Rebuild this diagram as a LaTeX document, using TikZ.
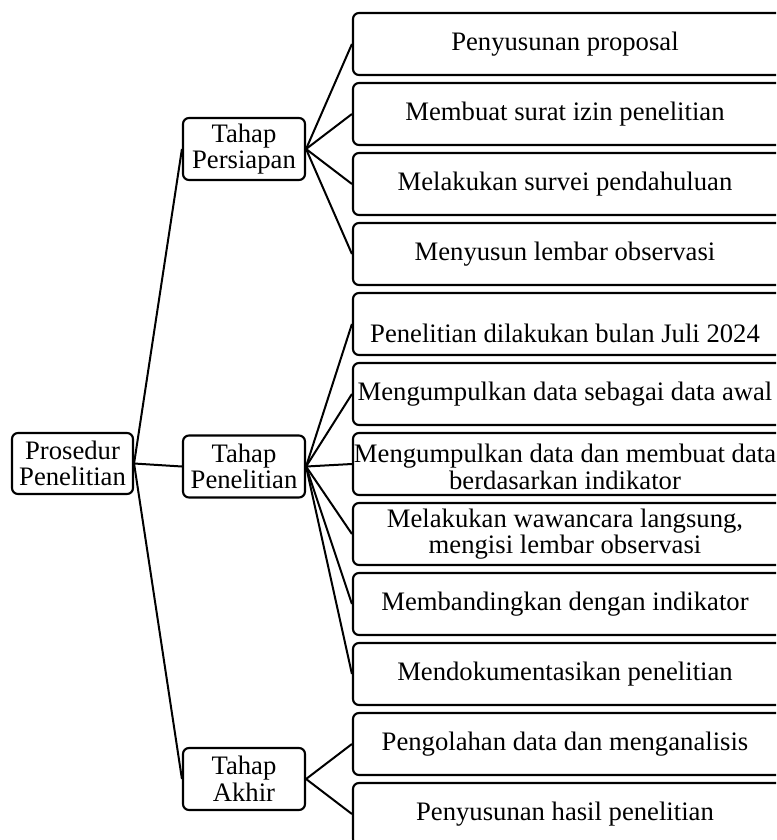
\documentclass[tikz,border=0pt]{standalone}
\usepackage{fontspec}
\setmainfont{Liberation Serif}
\begin{document}
\begin{tikzpicture}[x=0.75pt,y=-0.75pt,
  every node/.style={font=\fontsize{20}{20}\selectfont},
  boxbase/.style={draw, line width=1.6pt, rounded corners=4.5pt, align=center, inner sep=0pt},
  lbox/.style={boxbase, minimum width=91.5pt, minimum height=46.5pt},
  rbox/.style={boxbase, minimum width=327pt, minimum height=46.5pt},
  rtext/.style={align=center, inner sep=0pt, xshift=-4.5pt},
  link/.style={line width=1.5pt}]
\useasboundingbox (0,0) rectangle (776,840);
\clip (0,0) rectangle (776,840);

\node[lbox, minimum width=90.75pt, minimum height=45.75pt] (pros) at (72.5,463.5) {Prosedur\\Penelitian};
\node[lbox] (pers) at (244,149) {Tahap\\Persiapan};
\node[lbox] (pene) at (244,466.5) {Tahap\\Penelitian};
\node[lbox] (akhr) at (244,779) {Tahap\\Akhir};

\foreach \i/\y in {0/44,1/114,2/184,3/254,4/324,5/394,6/464,7/534,8/604,9/674,10/744,11/814}
  \node[rbox] (r\i) at (571,\y) {};

\node[rtext] (t0) at (r0) {Penyusunan proposal};
\node[rtext] (t1) at (r1) {Membuat surat izin penelitian};
\node[rtext] (t2) at (r2) {Melakukan survei pendahuluan};
\node[rtext] (t3) at (r3) {Menyusun lembar observasi};
\node[rtext, yshift=-7pt] (t4) at (r4) {Penelitian dilakukan bulan Juli 2024};
\node[rtext] (t5) at (r5) {Mengumpulkan data sebagai data awal};
\node[rtext, yshift=-2pt] (t6) at (r6) {Mengumpulkan data dan membuat data\\berdasarkan indikator};
\node[rtext] (t7) at (r7) {Melakukan wawancara langsung,\\mengisi lembar observasi};
\node[rtext] (t8) at (r8) {Membandingkan dengan indikator};
\node[rtext] (t9) at (r9) {Mendokumentasikan penelitian};
\node[rtext] (t10) at (r10) {Pengolahan data dan menganalisis};
\node[rtext] (t11) at (r11) {Penyusunan hasil penelitian};

\draw[link] (pros.east) -- (pers.west);
\draw[link] (pros.east) -- (pene.west);
\draw[link] (pros.east) -- (akhr.west);

\foreach \i in {0,1,2,3} \draw[link] (pers.east) -- (r\i.west);
\foreach \i in {4,5,6,7,8,9} \draw[link] (pene.east) -- (r\i.west);
\foreach \i in {10,11} \draw[link] (akhr.east) -- (r\i.west);
\end{tikzpicture}
\end{document}
